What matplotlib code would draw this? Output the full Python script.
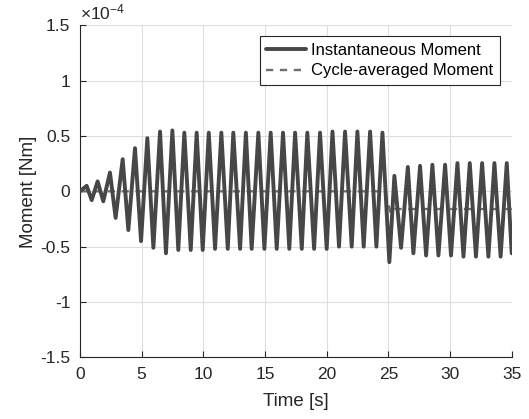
import matplotlib
matplotlib.use("Agg")
import matplotlib.pyplot as plt

# extrema of the instantaneous moment (units of 1e-4 Nm)
t_inst = [0, 0.54, 0.95, 1.43, 1.89, 2.43, 2.89, 3.46, 3.92, 4.46,
          4.95, 5.46, 5.95, 6.49, 6.97, 7.49, 7.97, 8.46, 8.98, 9.46,
          9.95, 10.44, 10.95, 11.46, 11.98, 12.43, 12.98, 13.45, 13.92, 14.46,
          14.95, 15.46, 15.95, 16.46, 16.97, 17.44, 17.98, 18.43, 18.98, 19.46,
          20.0, 20.47, 21.0, 21.49, 22.03, 22.49, 23.0, 23.52, 24.03, 24.52,
          25.08, 25.49, 26.03, 26.58, 27.03, 27.57, 28.06, 28.57, 29.06, 29.6,
          30.08, 30.6, 31.09, 31.6, 32.1, 32.6, 33.11, 33.6, 34.1, 34.6, 35.0]
m_inst = [0, 0.05, -0.08, 0.09, -0.09, 0.17, -0.24, 0.29, -0.35, 0.39,
          -0.45, 0.48, -0.51, 0.54, -0.56, 0.55, -0.53, 0.53, -0.53, 0.53,
          -0.53, 0.53, -0.52, 0.53, -0.52, 0.53, -0.52, 0.53, -0.52, 0.53,
          -0.52, 0.53, -0.52, 0.53, -0.52, 0.53, -0.52, 0.53, -0.52, 0.53,
          -0.52, 0.54, -0.50, 0.54, -0.50, 0.54, -0.50, 0.54, -0.50, 0.53,
          -0.64, 0.14, -0.51, 0.22, -0.56, 0.23, -0.58, 0.24, -0.58, 0.24,
          -0.58, 0.255, -0.59, 0.255, -0.59, 0.255, -0.59, 0.255, -0.59, 0.255, -0.56]

# cycle-averaged moment
t_avg = [0, 24.7, 25.2, 25.5, 35]
m_avg = [0, 0, -0.2, -0.16, -0.16]

xticks = [0, 5, 10, 15, 20, 25, 30, 35]
yticks = [-1.5, -1, -0.5, 0, 0.5, 1, 1.5]
ytick_labels = ["-1.5", "-1", "-0.5", "0", "0.5", "1", "1.5"]

plt.rcParams["font.family"] = ["Liberation Sans", "DejaVu Sans"]
plt.rcParams["lines.scale_dashes"] = False

fig = plt.figure(figsize=(5.29, 4.19), dpi=100)
ax = fig.add_axes([0.1512, 0.1472, 0.9673 - 0.1512, 0.9396 - 0.1472])

ax.plot(t_avg, m_avg, color="#6e6e6e", lw=1.7, dashes=(5.2, 4.8),
        label="Cycle-averaged Moment", zorder=2)
ax.plot(t_inst, m_inst, color="#474747", lw=2.8, solid_joinstyle="round",
        solid_capstyle="round", label="Instantaneous Moment", zorder=3)

ax.set_xlim(0, 35)
ax.set_ylim(-1.5, 1.5)
ax.set_xticks(xticks)
ax.set_yticks(yticks)
ax.set_yticklabels(ytick_labels)
ax.tick_params(direction="in", length=4, width=0.8, colors="#262626",
               labelsize=12.5, labelcolor="#262626")
ax.tick_params(axis="x", pad=7)
ax.tick_params(axis="y", pad=7)
ax.grid(True, color="#dedede", lw=0.8)
ax.set_axisbelow(True)
for s in ["top", "right"]:
    ax.spines[s].set_visible(False)
for s in ["left", "bottom"]:
    ax.spines[s].set_color("#262626")
    ax.spines[s].set_linewidth(0.8)

ax.set_xlabel("Time [s]", fontsize=13.5, color="#262626", labelpad=8)
ax.set_ylabel("Moment [Nm]", fontsize=13.5, color="#262626", labelpad=2)
ax.text(0.0, 1.01, r"$\mathregular{\times10^{-4}}$", transform=ax.transAxes,
        fontsize=12.5, color="#262626", ha="left", va="bottom")

h, l = ax.get_legend_handles_labels()
leg = ax.legend(h[::-1], l[::-1], loc="upper right",
                bbox_to_anchor=(0.9729, 0.9678), borderaxespad=0,
                fontsize=12, frameon=True, fancybox=False, framealpha=1,
                edgecolor="#262626", handlelength=2.4, handletextpad=0.3,
                labelspacing=0.35, borderpad=0.4)
leg.get_frame().set_linewidth(0.8)

fig.savefig("out.png", dpi=100)
